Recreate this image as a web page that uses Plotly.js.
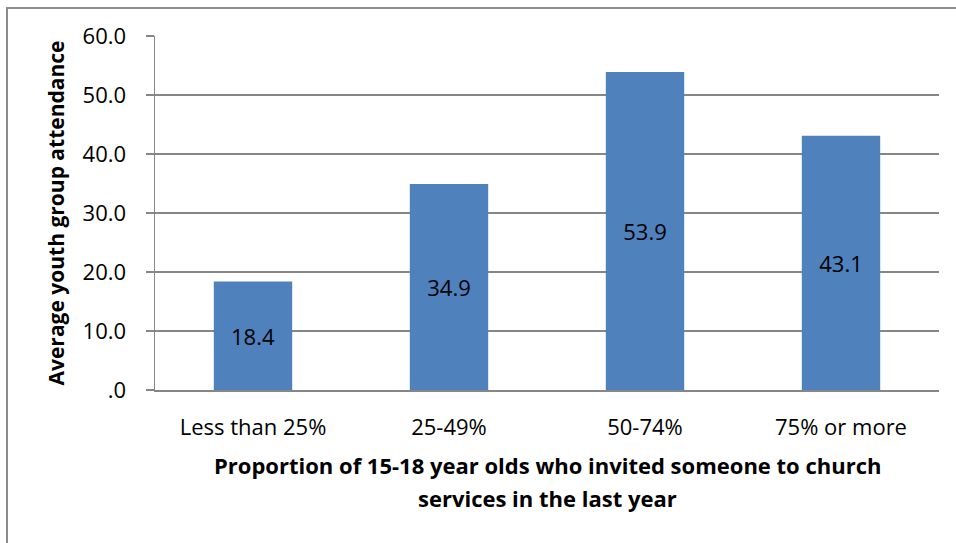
<!DOCTYPE html>
<html>
<head>
<meta charset="utf-8">
<script src="https://cdn.plot.ly/plotly-3.0.1.min.js"></script>
<style>
html,body{margin:0;padding:0;background:#fff;}
#chart{width:956px;height:543px;position:absolute;left:0;top:0;}
#frame{position:absolute;left:6px;top:7px;width:960px;height:600px;border:2px solid #8c8c8c;box-sizing:border-box;pointer-events:none;}
</style>
</head>
<body>
<div id="chart"></div>
<div id="frame"></div>
<script>
const categories = ["Less than 25%", "25-49%", "50-74%", "75% or more"];
const attendance = [18.4, 34.9, 53.9, 43.1];
const yTickVals = [0, 10, 20, 30, 40, 50, 60];
const yTickText = [".0", "10.0", "20.0", "30.0", "40.0", "50.0", "60.0"];
const yTitle = "Average youth group attendance";
const xTitleLines = ["Proportion of 15-18 year olds who invited someone to church", "services in the last year"];

const FONT = "'Open Sans', Lato, sans-serif";
const TSIZE = 22;

const trace = {
  type: "bar",
  x: categories,
  y: attendance,
  marker: {color: "#4F81BD"},
  width: 0.4,
  text: attendance.map(v => v.toFixed(1)),
  textposition: "inside",
  insidetextanchor: "middle",
  textangle: 0,
  constraintext: "none",
  textfont: {family: FONT, size: TSIZE, color: "#000"},
  hoverinfo: "skip"
};

const layout = {
  width: 956, height: 543,
  margin: {l: 155, r: 17, t: 36, b: 153},
  paper_bgcolor: "#fff", plot_bgcolor: "#fff",
  showlegend: false,
  font: {family: FONT, size: TSIZE, color: "#000"},
  xaxis: {
    type: "category",
    showgrid: false,
    showline: true, linecolor: "#868686", linewidth: 1.5,
    ticks: "", ticklabelstandoff: 17,
    tickfont: {family: FONT, size: TSIZE, color: "#000"},
    fixedrange: true
  },
  yaxis: {
    range: [0, 60],
    tickvals: yTickVals, ticktext: yTickText,
    showgrid: true, gridcolor: "#868686", gridwidth: 1.2,
    zeroline: false,
    showline: true, linecolor: "#868686", linewidth: 1.5,
    ticks: "outside", ticklen: 8, tickcolor: "#868686", tickwidth: 1.2,
    ticklabelstandoff: 15,
    tickfont: {family: FONT, size: TSIZE, color: "#000"},
    title: {text: "<b>" + yTitle + "</b>", font: {family: FONT, size: 21, color: "#000"}, standoff: 12},
    automargin: false,
    fixedrange: true
  },
  annotations: xTitleLines.map((t, i) => ({
    text: "<b>" + t + "</b>",
    xref: "paper", yref: "paper",
    x: 0.5, y: -(465 + i * 33 - 390) / 354,
    xanchor: "center", yanchor: "middle",
    showarrow: false,
    font: {family: FONT, size: 22, color: "#000"}
  }))
};

Plotly.newPlot("chart", [trace], layout, {displayModeBar: false, staticPlot: true});
</script>
</body>
</html>
